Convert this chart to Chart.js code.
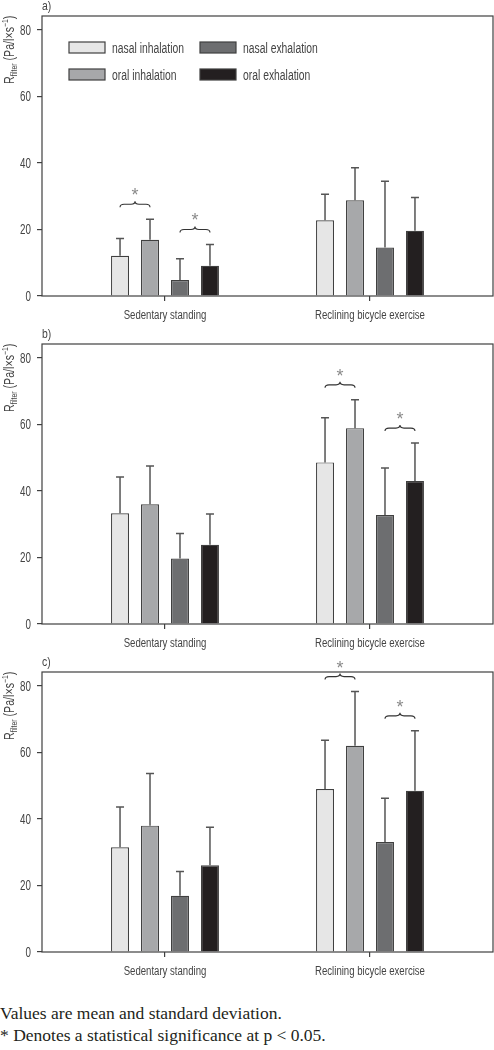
<!DOCTYPE html>
<html>
<head>
<meta charset="utf-8">
<script src="https://cdn.jsdelivr.net/npm/chart.js@4.4.1/dist/chart.umd.min.js"></script>
<style>
  html, body { margin: 0; padding: 0; background: #fff; }
  .panel { width: 494px; height: 328px; }
  .panel canvas { display: block; }
  .note {
    font-family: "Liberation Serif", "Times New Roman", serif;
    font-size: 17.5px;
    line-height: 22px;
    color: #231f20;
    padding-top: 18px;
  }
</style>
</head>
<body>
<div class="panel"><canvas id="chartA" width="494" height="328"></canvas></div>
<div class="panel"><canvas id="chartB" width="494" height="328"></canvas></div>
<div class="panel"><canvas id="chartC" width="494" height="328"></canvas></div>
<div class="note">Values are mean and standard deviation.<br>* Denotes a statistical significance at p &lt; 0.05.</div>

<script>
// --- data ---------------------------------------------------------------
const categories = ['Sedentary standing', 'Reclining bicycle exercise'];
const seriesLabels = ['nasal inhalation', 'oral inhalation', 'nasal exhalation', 'oral exhalation'];
const yTicks = [0, 20, 40, 60, 80];

// per series: [sedentary, reclining]
const meansA = [[12.1, 22.8], [16.9, 28.8], [4.8, 14.6], [9.1, 19.6]];
const sdA    = [[5.2, 7.8], [6.2, 9.8], [6.4, 19.9], [6.4, 10.0]];
const meansB = [[33.3, 48.6], [36.0, 58.9], [19.7, 32.8], [23.8, 43.0]];
const sdB    = [[10.9, 13.4], [11.5, 8.5], [7.5, 14.1], [9.3, 11.4]];
const meansC = [[31.5, 49.0], [38.0, 62.0], [16.9, 33.1], [26.1, 48.5]];
const sdC    = [[12.1, 14.7], [15.7, 16.3], [7.3, 13.1], [11.4, 18.0]];

// significant pairs: [category, series, series]
const sigA = [[0, 0, 1], [0, 2, 3]];
const sigB = [[1, 0, 1], [1, 2, 3]];
const sigC = [[1, 0, 1], [1, 2, 3]];

// --- style --------------------------------------------------------------
const seriesColors = ['#e6e6e6', '#a7a8aa', '#6d6e70', '#231f20'];
const INK = '#404040';
const TEXT = '#444';
const FONT = '"Liberation Sans", Arial, sans-serif';

// the original uses a condensed face; squeeze a regular one horizontally
function narrowText(ctx, text, x, y, size, sx, align) {
  ctx.save();
  ctx.font = size + 'px ' + FONT;
  const w = ctx.measureText(text).width * sx;
  const x0 = align === 'center' ? x - w / 2 : align === 'right' ? x - w : x;
  ctx.translate(x0, y);
  ctx.scale(sx, 1);
  ctx.textAlign = 'left';
  ctx.fillText(text, 0, 0);
  ctx.restore();
  return w;
}

function drawYTitle(ctx, x, y) {
  // R_filter (Pa/l×s^-1), rotated, reading bottom to top
  const parts = [['R', 14, 0], ['filter', 9, 3], [' (Pa/l\u00d7s', 14, 0], ['\u22121', 9, -6], [')', 14, 0]];
  ctx.save();
  ctx.translate(x, y);
  ctx.rotate(-Math.PI / 2);
  ctx.fillStyle = TEXT;
  ctx.textBaseline = 'alphabetic';
  let cx = 0;
  parts.forEach(([t, size, dy]) => {
    cx += narrowText(ctx, t, cx, dy, size, 0.76, 'left');
  });
  ctx.restore();
}

function drawBrace(ctx, x1, x2, yb) {
  const xc = (x1 + x2) / 2, ym = yb - 3, yt = yb - 6;
  ctx.beginPath();
  ctx.moveTo(x1, yb);
  ctx.quadraticCurveTo(x1, ym, x1 + 4, ym);
  ctx.lineTo(xc - 4, ym);
  ctx.quadraticCurveTo(xc, ym, xc, yt);
  ctx.quadraticCurveTo(xc, ym, xc + 4, ym);
  ctx.lineTo(x2 - 4, ym);
  ctx.quadraticCurveTo(x2, ym, x2, yb);
  ctx.stroke();
}

function panel(id, tag, means, sds, sig, withLegend) {
  const decor = {
    id: 'decor',
    afterDatasetsDraw(chart) {
      const { ctx } = chart;
      const y = chart.scales.y;
      const d = chart.data.datasets;
      const metas = d.map((_, i) => chart.getDatasetMeta(i));
      const topOf = (s, j) => y.getPixelForValue(d[s].data[j].y + d[s].sd[j]);

      // error bars (upper only)
      ctx.save();
      ctx.strokeStyle = '#555';
      ctx.lineWidth = 1.5;
      d.forEach((ds, i) => {
        metas[i].data.forEach((bar, j) => {
          const top = topOf(i, j);
          ctx.beginPath();
          ctx.moveTo(bar.x, bar.y);
          ctx.lineTo(bar.x, top);
          ctx.moveTo(bar.x - 4, top);
          ctx.lineTo(bar.x + 4, top);
          ctx.stroke();
        });
      });

      // significance braces + asterisk
      sig.forEach(([cat, s1, s2]) => {
        const b1 = metas[s1].data[cat], b2 = metas[s2].data[cat];
        const top = Math.min(topOf(s1, cat), topOf(s2, cat));
        ctx.strokeStyle = '#333';
        ctx.lineWidth = 1.1;
        drawBrace(ctx, b1.x, b2.x, top - 12);
        ctx.fillStyle = '#8a8a8a';
        ctx.font = '18px ' + FONT;
        ctx.textAlign = 'center';
        ctx.textBaseline = 'alphabetic';
        ctx.fillText('*', (b1.x + b2.x) / 2, top - 28 + 10);
      });
      ctx.restore();
    },
    afterDraw(chart) {
      const { ctx, chartArea: a } = chart;
      const x = chart.scales.x, y = chart.scales.y;
      ctx.save();
      // frame
      ctx.strokeStyle = INK;
      ctx.lineWidth = 1.2;
      ctx.strokeRect(a.left, a.top, a.right - a.left, a.bottom - a.top);

      ctx.fillStyle = TEXT;
      ctx.textBaseline = 'alphabetic';
      // panel tag
      narrowText(ctx, tag, a.left, 10, 13, 0.8, 'left');
      // axis labels
      categories.forEach((c, i) => {
        narrowText(ctx, c, x.getPixelForValue(i), a.bottom + 23, 12, 0.8, 'center');
      });
      yTicks.forEach((v) => {
        narrowText(ctx, String(v), a.left - 11, y.getPixelForValue(v) + 5, 14, 0.7, 'right');
      });
      ctx.restore();

      drawYTitle(ctx, 14, a.top + 68);

      if (withLegend) {
        ctx.save();
        ctx.textBaseline = 'alphabetic';
        chart.data.datasets.forEach((ds, i) => {
          const bx = a.left + 27 + Math.floor(i / 2) * 131;
          const by = a.top + 26 + (i % 2) * 27;
          ctx.fillStyle = ds.backgroundColor;
          ctx.fillRect(bx, by, 36, 11);
          ctx.strokeStyle = INK;
          ctx.lineWidth = 1.2;
          ctx.strokeRect(bx, by, 36, 11);
          ctx.fillStyle = TEXT;
          narrowText(ctx, ds.label, bx + 43, by + 11, 14, 0.74, 'left');
        });
        ctx.restore();
      }
    }
  };

  return new Chart(document.getElementById(id), {
    type: 'bar',
    data: {
      datasets: seriesLabels.map((label, s) => ({
        label,
        data: means[s].map((v, i) => ({ x: i, y: v })),
        sd: sds[s],
        backgroundColor: seriesColors[s],
        borderColor: INK,
        borderWidth: 1.2,
        categoryPercentage: 0.585,
        barPercentage: 0.6,
      })),
    },
    options: {
      responsive: false,
      animation: false,
      events: [],
      layout: { padding: { top: 16, right: 1, left: 0, bottom: 0 } },
      plugins: { legend: { display: false }, tooltip: { enabled: false } },
      scales: {
        x: {
          type: 'linear',
          min: -0.6,
          max: 1.6,
          offset: false,
          afterBuildTicks: (s) => { s.ticks = categories.map((_, i) => ({ value: i })); },
          afterFit: (s) => { s.height = 32; },
          grid: { offset: false, drawOnChartArea: false, tickLength: 5, color: INK, lineWidth: 1.2 },
          border: { display: false },
          ticks: { display: false },
        },
        y: {
          min: 0,
          max: 84.2,
          afterBuildTicks: (s) => { s.ticks = yTicks.map((v) => ({ value: v })); },
          afterFit: (s) => { s.width = 42; },
          grid: { drawOnChartArea: false, tickLength: 5, color: INK, lineWidth: 1.2 },
          border: { display: false },
          ticks: { display: false },
        },
      },
    },
    plugins: [decor],
  });
}

panel('chartA', 'a)', meansA, sdA, sigA, true);
panel('chartB', 'b)', meansB, sdB, sigB, false);
panel('chartC', 'c)', meansC, sdC, sigC, false);
</script>
</body>
</html>
